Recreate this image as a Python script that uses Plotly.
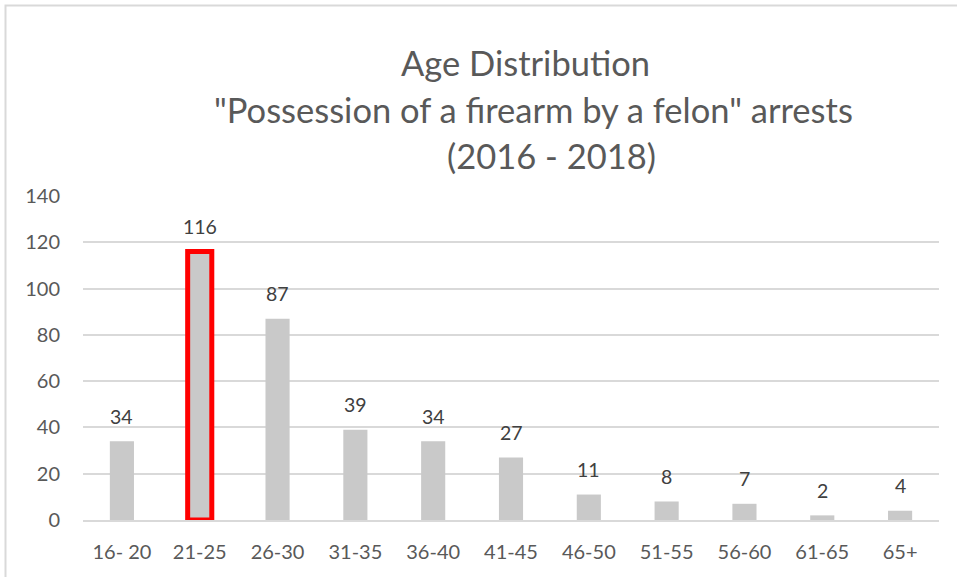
import plotly.graph_objects as go

categories = ["16- 20", "21-25", "26-30", "31-35", "36-40", "41-45", "46-50", "51-55", "56-60", "61-65", "65+"]
values = [34, 116, 87, 39, 34, 27, 11, 8, 7, 2, 4]
highlight = "21-25"
y_ticks = [0, 20, 40, 60, 80, 100, 120, 140]
title_lines = ["Age Distribution", "\"Possession of a firearm by a felon\" arrests", "(2016 - 2018)"]

W, H = 957, 577
L, R, T, B = 83, 18, 196, 57
pw, ph = W - L - R, H - T - B

def px_x(x):
    return (x - L) / pw

def px_y(y):
    return (H - B - y) / ph

line_colors = ["#ff0000" if c == highlight else "rgba(0,0,0,0)" for c in categories]
line_widths = [5 if c == highlight else 0 for c in categories]

FONT = "Lato, Carlito, sans-serif"

fig = go.Figure()
fig.add_trace(go.Bar(
    x=categories, y=values,
    width=0.31,
    marker=dict(color="#c9c9c9", line=dict(color=line_colors, width=line_widths)),
    hoverinfo="skip",
))

for c, v in zip(categories, values):
    fig.add_annotation(x=c, y=v, text=str(v), showarrow=False, xref="x", yref="y",
                       yanchor="middle", yshift=25,
                       font=dict(family=FONT, size=19.5, color="#404040"))

title_x = [525, 533, 551]
title_y = [63, 110, 156]
for t, xx, yy in zip(title_lines, title_x, title_y):
    fig.add_annotation(x=px_x(xx), y=px_y(yy), xref="paper", yref="paper", text=t, showarrow=False,
                       xanchor="center", yanchor="middle",
                       font=dict(family=FONT, size=34.5, color="#595959"))

fig.add_shape(type="rect", xref="paper", yref="paper",
              x0=px_x(5.5), x1=px_x(975), y0=px_y(600), y1=px_y(5.5),
              line=dict(color="#d9d9d9", width=2), fillcolor="rgba(0,0,0,0)", layer="below")

fig.update_layout(
    width=W, height=H,
    margin=dict(l=L, r=R, t=T, b=B),
    paper_bgcolor="white", plot_bgcolor="white",
    showlegend=False,
    bargap=0.69,
    font=dict(family=FONT, color="#595959"),
)
fig.update_xaxes(showgrid=False, showline=True, linecolor="#d9d9d9", linewidth=2,
                 ticks="", tickfont=dict(size=20, color="#595959"), ticklabelstandoff=13,
                 fixedrange=True)
fig.update_yaxes(range=[0, 140], tickvals=y_ticks, showgrid=True, gridcolor="#d9d9d9", gridwidth=2,
                 zeroline=False, showline=False, ticks="",
                 tickfont=dict(size=20, color="#595959"), ticklabelstandoff=22, fixedrange=True)

fig.write_html("out.html", config={"displayModeBar": False},
               post_script="document.body.style.margin='0';document.body.style.overflow='hidden';")
